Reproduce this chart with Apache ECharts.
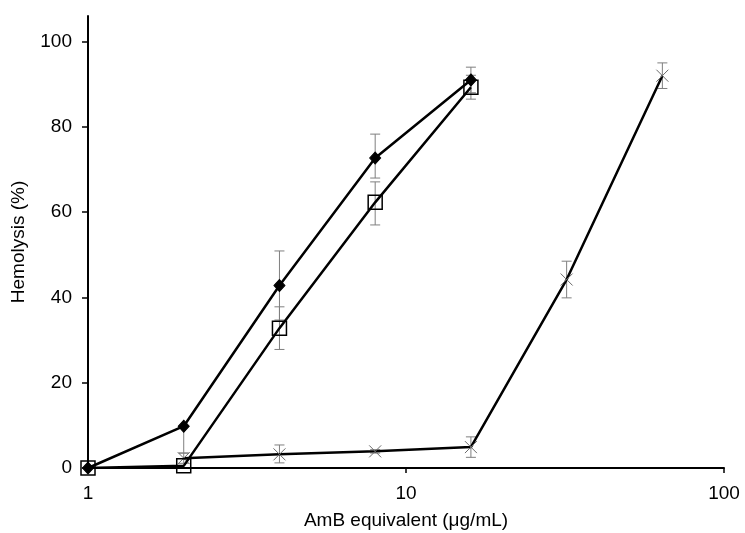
<!DOCTYPE html>
<html><head><meta charset="utf-8">
<script src="https://cdn.jsdelivr.net/npm/echarts@6/dist/echarts.min.js"></script>
<style>html,body{margin:0;padding:0;background:#fff}#c{width:745px;height:533px}</style>
</head><body><div id="c"></div>
<script>
// Data
var concA = [1, 2, 4, 8, 16];
var valA = [0, 9.8, 42.8, 72.7, 91];
var errA_lo = [0, 6.3, 8.1, 4.7, 3];
var errA_hi = [0, 0, 8.1, 5.6, 3];

var concB = [1, 2, 4, 8, 16];
var valB = [0, 0.5, 32.8, 62.3, 89.3];
var errB_lo = [0, 0, 5, 5.3, 2.8];
var errB_hi = [0, 0, 5, 4.8, 2.8];

var concC = [2, 4, 8, 16, 32, 64];
var valC = [2.3, 3.2, 3.9, 4.9, 44.2, 92];
var errC_lo = [1.2, 2, 0.4, 2.4, 4.3, 3];
var errC_hi = [1.2, 2.2, 0.4, 2.4, 4.3, 3];

var yTicks = [0, 20, 40, 60, 80, 100];

function pts(xs, ys){ return xs.map(function(x,i){return [x, ys[i]];}); }
function errData(xs, ys, lo, hi){ return xs.map(function(x,i){return [x, ys[i]-lo[i], ys[i]+hi[i]];}); }

function errSeries(data){
  return {
    type:'custom', data:data, z:1, silent:true,
    encode:{x:0, y:[1,2]},
    renderItem:function(params, api){
      var x = api.value(0), lo = api.value(1), hi = api.value(2);
      if (hi - lo < 0.01) return null;
      var p1 = api.coord([x, lo]), p2 = api.coord([x, hi]);
      var w = 5;
      var st = {stroke:'#7f7f7f', lineWidth:1};
      return {type:'group', children:[
        {type:'line', shape:{x1:p1[0], y1:p1[1], x2:p2[0], y2:p2[1]}, style:st},
        {type:'line', shape:{x1:p1[0]-w, y1:p1[1], x2:p1[0]+w, y2:p1[1]}, style:st},
        {type:'line', shape:{x1:p2[0]-w, y1:p2[1], x2:p2[0]+w, y2:p2[1]}, style:st}
      ]};
    }
  };
}

var chart = echarts.init(document.getElementById('c'), null, {renderer:'canvas'});
var font = 'Liberation Sans, Arial, sans-serif';
chart.setOption({
  animation:false,
  backgroundColor:'#fff',
  grid:{left:88, right:21, top:16, bottom:65, containLabel:false, outerBoundsMode:'none'},
  xAxis:{
    type:'log', logBase:10, min:1, max:100,
    name:'AmB equivalent (μg/mL)', nameLocation:'middle', nameGap:43,
    nameTextStyle:{fontFamily:font, fontSize:19, color:'#000'},
    axisLine:{lineStyle:{color:'#000', width:2}},
    axisTick:{show:true, length:5, lineStyle:{color:'#000', width:1.5}},
    minorTick:{show:false},
    splitLine:{show:false},
    axisLabel:{fontFamily:font, fontSize:19, color:'#000', margin:16}
  },
  yAxis:{
    type:'value', min:0, max:106,
    name:'Hemolysis (%)', nameLocation:'middle', nameGap:60, nameRotate:90,
    nameTextStyle:{fontFamily:font, fontSize:19, color:'#000'},
    axisLine:{show:true, lineStyle:{color:'#000', width:2}},
    axisTick:{show:true, length:6, customValues:yTicks, lineStyle:{color:'#000', width:1.5}},
    splitLine:{show:false},
    axisLabel:{fontFamily:font, fontSize:19, color:'#000', margin:16, customValues:yTicks}
  },
  series:[
    errSeries(errData(concA, valA, errA_lo, errA_hi)),
    errSeries(errData(concB, valB, errB_lo, errB_hi)),
    errSeries(errData(concC, valC, errC_lo, errC_hi)),
    {type:'line', data:pts(concC, valC), z:3,
     lineStyle:{color:'#000', width:2.5},
     symbol:'path://M0,0L10,10M10,0L0,10', symbolSize:12, showAllSymbol:true,
     itemStyle:{color:'none', borderColor:'#6b6b6b', borderWidth:1}},
    {type:'line', data:pts(concB, valB), z:4,
     lineStyle:{color:'#000', width:2.5},
     symbol:'rect', symbolSize:14, showAllSymbol:true,
     itemStyle:{color:'none', borderColor:'#000', borderWidth:1.5}},
    {type:'line', data:pts(concA, valA), z:5,
     lineStyle:{color:'#000', width:2.5},
     symbol:'diamond', symbolSize:[11,12], showAllSymbol:true,
     itemStyle:{color:'#000', borderColor:'#000'}}
  ]
});
</script></body></html>
